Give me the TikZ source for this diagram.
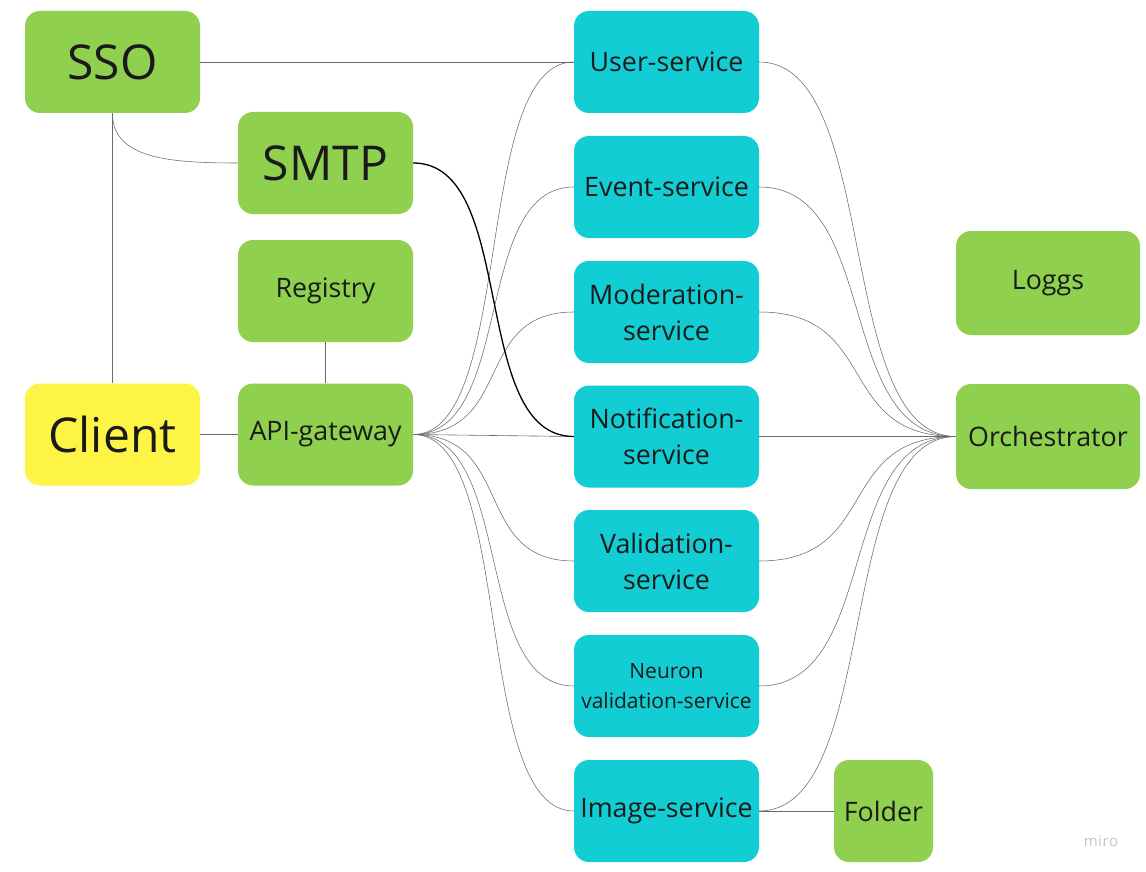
\documentclass[tikz,border=0pt]{standalone}
\usepackage{fontspec}
\setmainfont{Open Sans}
\definecolor{mgreen}{HTML}{8FD14F}
\definecolor{mcyan}{HTML}{12CDD4}
\definecolor{myellow}{HTML}{FEF445}
\definecolor{mtext}{HTML}{1A1A1A}
\definecolor{mline}{HTML}{6A6A6A}
\definecolor{mwater}{HTML}{C4C4CC}
\begin{document}
\begin{tikzpicture}[x=1pt,y=-1pt,
  box/.style={rounded corners=15pt, inner sep=0pt, align=center, text=mtext, font=\fontsize{26.8}{36}\selectfont},
  bigbox/.style={box, minimum width=175pt, minimum height=102pt},
  svc/.style={box, fill=mcyan, minimum width=185pt, minimum height=102pt},
  grn/.style={fill=mgreen},
  conn/.style={draw=mline, line width=0.6pt},
  curv/.style={draw=mline, line width=0.55pt}
]
\useasboundingbox (0,0) rectangle (1146,872);
\fill[white] (0,0) rectangle (1146,872);

% left column
\node[bigbox, grn, font=\fontsize{48}{56}\selectfont] (sso) at (112.5,62) {SSO};
\node[bigbox, fill=myellow, font=\fontsize{48}{56}\selectfont] (client) at (112.5,434.5) {Client};
\node[bigbox, grn, font=\fontsize{48}{56}\selectfont] (smtp) at (325.5,163) {SMTP};
\node[bigbox, grn] (registry) at (325.5,291) {Registry};
\node[bigbox, grn] (api) at (325.5,434.5) {API-gateway};

% services
\node[svc] (user) at (666.5,62) {User-service};
\node[svc] (event) at (666.5,187) {Event-service};
\node[svc] (moder) at (666.5,312) {Moderation-\\service};
\node[svc] (notif) at (666.5,436.5) {Notification-\\service};
\node[svc] (valid) at (666.5,561) {Validation-\\service};
\node[svc, font=\fontsize{21}{30}\selectfont] (neuron) at (666.5,686) {Neuron\\validation-service};
\node[svc] (image) at (666.5,811) {Image-service};

% right
\node[box, grn, minimum width=184pt, minimum height=104pt] (loggs) at (1048,283) {Loggs};
\node[box, grn, minimum width=184pt, minimum height=105pt] (orch) at (1048,436.5) {Orchestrator};
\node[box, grn, minimum width=99pt, minimum height=102pt] (folder) at (883.5,811) {Folder};

\node[text=mwater, font=\fontsize{15}{18}\selectfont, inner sep=0pt] (miro) at (1101,841) {m\kern0.5pt i\kern0.5pt r\kern0.5pt o};

% straight connectors
\draw[conn] (sso.east) -- (user.west);
\draw[conn] (sso.south) -- (client.north);
\draw[conn] (client.east) -- (api.west);
\draw[conn] (registry.south) -- (api.north);
\draw[conn] (image.east) -- (folder.west);
\draw[conn] (api.east) -- (notif.west);
\draw[conn] (notif.east) -- (orch.west);
\draw[curv] (sso.south) .. controls +(0,45) and +(-70,0) .. (smtp.west);

% API-gateway to services
\foreach \s in {user,event,moder,valid,neuron,image}{
  \draw[curv] (api.east) .. controls +(102,0) and +(-102,0) .. (\s.west);
}
% services to orchestrator
\foreach \s in {user,event,moder,valid,neuron,image}{
  \draw[curv] (\s.east) .. controls +(122,0) and +(-122,0) .. (orch.west);
}
% SMTP to Notification (highlighted)
\draw[black, line width=1.3pt] (smtp.east) .. controls +(105,0) and +(-105,0) .. (notif.west);
\end{tikzpicture}
\end{document}
